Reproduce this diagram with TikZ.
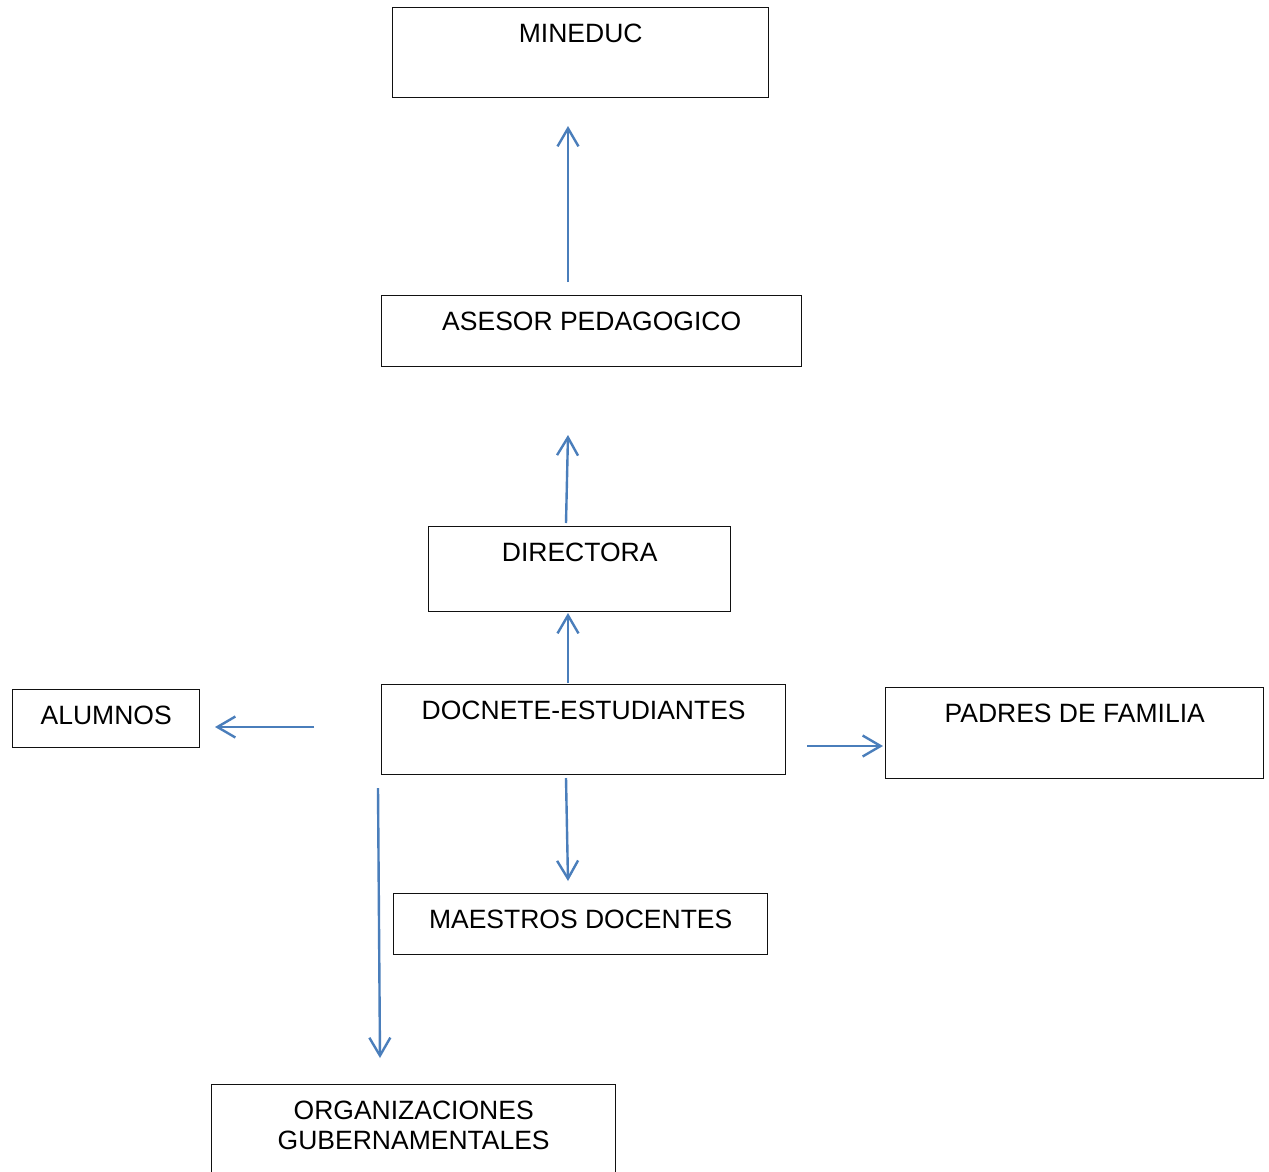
\documentclass[tikz,border=0pt]{standalone}
\usepackage{fontspec}
\setmainfont{Liberation Sans}
\usetikzlibrary{arrows.meta}
\definecolor{arrowblue}{HTML}{4A7EBB}
\definecolor{boxline}{HTML}{111111}
\tikzset{
  x=1pt, y=-1pt,
  orgbox/.style={draw=boxline, line width=1.4pt, fill=white, inner sep=0pt, anchor=north west},
  boxtext/.style={font=\fontsize{26.5}{30}\selectfont, align=center, inner sep=0pt, anchor=base},
  link/.style={draw=arrowblue, line width=2.4pt, -{Straight Barb[length=18pt,width=21pt,line width=2.4pt]}}
}
\newcommand{\orgnode}[6]{%
  \node[orgbox, minimum width=#4pt, minimum height=#5pt] (#1) at (#2,#3) {};
  \node[boxtext] (#1t) at ([yshift=-35pt]#1.north) {#6};
}
\begin{document}
\begin{tikzpicture}
\useasboundingbox (0,0) rectangle (1269,1171);
\clip (0,0) rectangle (1269,1171);
\fill[white] (0,0) rectangle (1269,1171);

\orgnode{mineduc}{392}{7}{376}{90}{MINEDUC}
\orgnode{asesor}{381}{295}{420}{71}{ASESOR PEDAGOGICO}
\orgnode{directora}{428}{526}{302}{85}{DIRECTORA}
\orgnode{docente}{381}{684}{404}{90}{DOCNETE-ESTUDIANTES}
\orgnode{alumnos}{12}{689}{187}{58}{ALUMNOS}
\orgnode{padres}{885}{687}{378}{91}{PADRES DE FAMILIA}
\orgnode{maestros}{393}{893}{374}{61}{MAESTROS DOCENTES}
\node[orgbox, minimum width=404pt, minimum height=120pt] (orgs) at (211,1084) {};
\node[boxtext] (orgst) at ([yshift=-65pt]orgs.north) {ORGANIZACIONES\\GUBERNAMENTALES};

% connector end points (free ends, gaps to boxes as in the reference)
\coordinate (a1s) at (568,282);  \coordinate (a1e) at (568,126);
\coordinate (a2s) at (566,523);  \coordinate (a2e) at (568,435);
\coordinate (a3s) at (568,683);  \coordinate (a3e) at (568,613);
\coordinate (a4s) at (314,727);  \coordinate (a4e) at (215,727);
\coordinate (a5s) at (807,746);  \coordinate (a5e) at (883,746);
\coordinate (a6s) at (566,778);  \coordinate (a6e) at (568,881);
\coordinate (a7s) at (378,788);  \coordinate (a7e) at (380,1058);

\draw[link] (a1s) -- (a1e);
\draw[link] (a2s) -- (a2e);
\draw[link] (a3s) -- (a3e);
\draw[link] (a4s) -- (a4e);
\draw[link] (a5s) -- (a5e);
\draw[link] (a6s) -- (a6e);
\draw[link] (a7s) -- (a7e);
\end{tikzpicture}
\end{document}
